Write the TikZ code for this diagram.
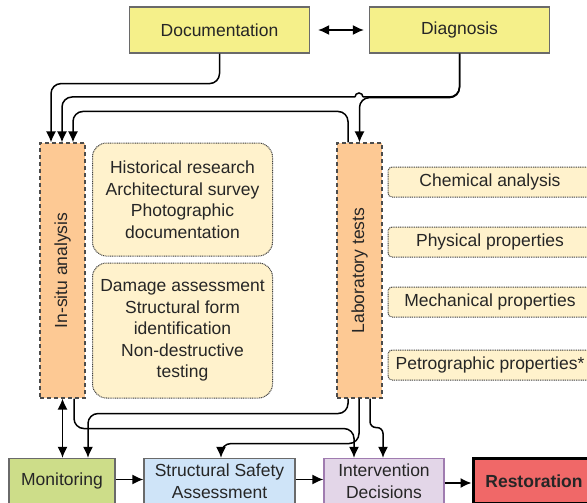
\documentclass[tikz,border=0pt]{standalone}
\usepackage{fontspec}
\setmainfont{Liberation Sans}
\usetikzlibrary{arrows.meta}

\definecolor{topfill}{HTML}{F5F08A}
\definecolor{stagefill}{HTML}{FDC994}
\definecolor{notefill}{HTML}{FFF2CC}
\definecolor{monfill}{HTML}{CDDD89}
\definecolor{ssafill}{HTML}{CFE4F8}
\definecolor{decfill}{HTML}{E3D6E8}
\definecolor{decline}{HTML}{A07CB0}
\definecolor{restfill}{HTML}{F06868}
\definecolor{edge}{HTML}{6A6A6A}

\tikzset{
  headtip/.tip={Latex[length=11pt,width=10pt]}
}

\begin{document}
\begin{tikzpicture}[x=1pt,y=-1pt,
  every node/.style={font=\fontsize{17.5}{21.5}\selectfont, text=black!85,
    inner sep=0pt, align=center},
  topbox/.style={draw=edge, line width=1.2pt, fill=topfill,
    minimum width=180pt, minimum height=46pt},
  stagebox/.style={draw=black!70, line width=1.1pt, fill=stagefill,
    dash pattern=on 4pt off 3pt, minimum width=45pt, minimum height=255pt},
  notebox/.style={draw=black!75, line width=1pt, fill=notefill,
    dash pattern=on 1pt off 0.8pt, rounded corners=14pt, minimum width=180pt},
  testbox/.style={draw=black!75, line width=1pt, fill=notefill,
    dash pattern=on 1pt off 0.8pt, rounded corners=4pt,
    minimum width=204pt, minimum height=30pt},
  flowbox/.style={draw=edge, line width=1.2pt, minimum height=45pt},
  conn/.style={line width=1.5pt, draw=black},
  arr/.style={conn, -headtip},
  dbl/.style={conn, headtip-headtip}
]
\useasboundingbox (0,0) rectangle (587,503);

% top row
\node[topbox] (doc) at (219.5,30) {Documentation};
\node[topbox] (diag) at (459.5,30) {Diagnosis};

% analysis stages
\node[stagebox] (insitu) at (62.5,270.5) {};
\node[rotate=90] at (insitu.center) {In-situ analysis};
\node[stagebox] (lab) at (359.5,270.5) {};
\node[rotate=90] at (lab.center) {Laboratory tests};

% in-situ notes
\node[notebox, minimum height=113pt] (hist) at (182.5,199.5)
  {Historical research\\Architectural survey\\Photographic\\documentation};
\node[notebox, minimum height=135pt] (dmg) at (182.5,330.5)
  {Damage assessment\\Structural form\\identification\\Non-destructive\\testing};

% laboratory tests
\node[testbox] (chem) at (490,182) {Chemical analysis};
\node[testbox] (phys) at (490,242) {Physical properties};
\node[testbox] (mech) at (490,302) {Mechanical properties};
\node[testbox] (petro) at (490,365) {Petrographic properties*};

% bottom row
\node[flowbox, fill=monfill, minimum width=106pt] (mon) at (62,481) {Monitoring};
\node[flowbox, fill=ssafill, minimum width=151pt] (ssa) at (219.5,481)
  {Structural Safety\\Assessment};
\node[flowbox, draw=decline, fill=decfill, minimum width=120pt] (dec) at (384,481)
  {Intervention\\Decisions};
\node[draw=black, line width=3pt, fill=restfill, minimum width=122pt,
  minimum height=45pt, font=\fontsize{17.5}{21.5}\selectfont\bfseries] (rest)
  at (534,481) {Restoration};

% connectors between top boxes and stages (corners rounded, tips kept sharp)
\draw[dbl, shorten <=8pt, shorten >=5pt] (doc.east) -- (diag.west);
\draw[arr] (doc.south) [rounded corners=10pt] -- ++(0,30) -| ([xshift=-11.5pt]insitu.north) [sharp corners];
\draw[arr] (diag.south) [rounded corners=10pt] -- ++(0,44) -| (lab.north) [sharp corners];
\draw[conn, rounded corners=10pt] (diag.south) |- (363,97);
\draw[conn] (363,97) arc (0:-180:4);
\draw[arr] (355,97) [rounded corners=10pt] -| ([xshift=-0.5pt]insitu.north) [sharp corners];
\draw[arr] ([xshift=-11.5pt]lab.north) [rounded corners=10pt] -- ++(0,-31) -| ([xshift=10.5pt]insitu.north) [sharp corners];

% connectors from stages to the bottom row
\draw[dbl] (insitu.south) -- (insitu.south |- mon.north);
\draw[arr] ([xshift=11.5pt]insitu.south) [rounded corners=10pt] -- ++(0,30) -| ([xshift=-30pt]dec.north) [sharp corners];
\draw[arr] ([xshift=-11.5pt]lab.south) [rounded corners=10pt] -- ++(0,15) -| ([xshift=26pt]mon.north) [sharp corners];
\draw[arr] ([xshift=-0.5pt]lab.south) [rounded corners=10pt] -- ++(0,45) -| ([xshift=1.5pt]ssa.north) [sharp corners];
\draw[arr] ([xshift=10.5pt]lab.south) [rounded corners=6pt] -- ++(0,29) -| ([xshift=-1pt]dec.north) [sharp corners];

% bottom row flow
\draw[arr] ([yshift=1.5pt]mon.east) -- ([yshift=1.5pt]ssa.west);
\draw[arr] ([yshift=1.5pt]ssa.east) -- ([yshift=1.5pt]dec.west);
\draw[arr] ([yshift=-2pt]dec.east) -- ([yshift=-2pt]rest.west);
\end{tikzpicture}
\end{document}
